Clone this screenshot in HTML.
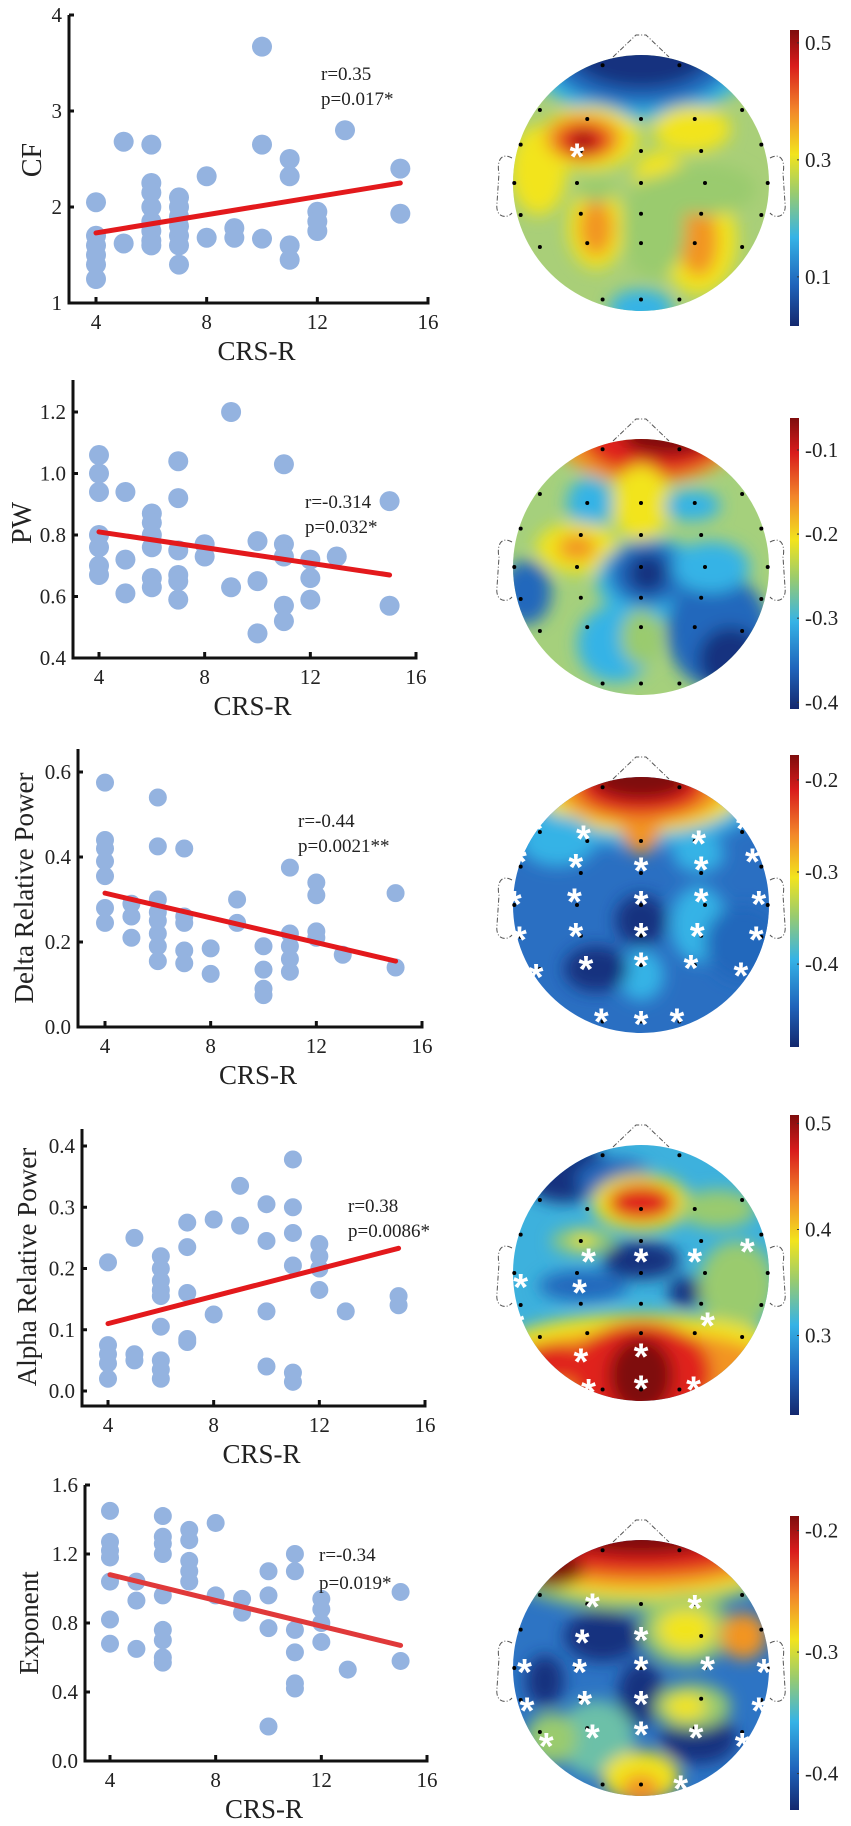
<!DOCTYPE html>
<html><head><meta charset="utf-8"><style>
html,body{margin:0;padding:0;background:#fff;}
svg{display:block;font-family:"Liberation Serif",serif;}
</style></head><body>
<svg id="fig" width="851" height="1826" viewBox="0 0 851 1826" xmlns="http://www.w3.org/2000/svg">
<defs>
<linearGradient id="jet" x1="0" y1="0" x2="0" y2="1">
<stop offset="0" stop-color="#7f0d0d"/><stop offset="0.12" stop-color="#d91c1c"/><stop offset="0.27" stop-color="#f2862a"/><stop offset="0.42" stop-color="#f2e41d"/><stop offset="0.55" stop-color="#9acb6e"/><stop offset="0.7" stop-color="#35b3e6"/><stop offset="0.86" stop-color="#2064bb"/><stop offset="1" stop-color="#14286e"/>
</linearGradient>
<filter id="blur" x="-50%" y="-50%" width="200%" height="200%"><feGaussianBlur stdDeviation="8"/></filter>
</defs>
</svg>
<script>
// ---------- scatter data ----------
const cfX=[4,4,4,4,4,4,5,5,6,6,6,6,6,6,6,6,7,7,7,7,7,7,7,8,8,9,9,10,10,10,11,11,11,11,12,12,12,13,15,15];
const cfY=[2.05,1.7,1.6,1.5,1.4,1.25,2.68,1.62,2.65,2.25,2.15,2.0,1.85,1.75,1.65,1.6,2.1,2.0,1.9,1.8,1.7,1.6,1.4,2.32,1.68,1.78,1.68,3.67,2.65,1.67,2.5,2.32,1.6,1.45,1.95,1.85,1.75,2.8,2.4,1.93];
const pwX=[4,4,4,4,4,4,4,5,5,5,6,6,6,6,6,6,7,7,7,7,7,7,8,8,9,9,10,10,10,11,11,11,11,11,12,12,12,13,15,15];
const pwY=[1.06,1.0,0.94,0.8,0.76,0.7,0.67,0.94,0.72,0.61,0.87,0.84,0.8,0.76,0.66,0.63,1.04,0.92,0.75,0.67,0.65,0.59,0.77,0.73,1.2,0.63,0.78,0.65,0.48,1.03,0.77,0.73,0.57,0.52,0.72,0.66,0.59,0.73,0.91,0.57];
const deltaX=[4,4,4,4,4,4,4,5,5,5,6,6,6,6,6,6,6,6,7,7,7,7,7,8,8,9,9,10,10,10,10,11,11,11,11,11,12,12,12,12,13,15,15];
const deltaY=[0.575,0.44,0.42,0.39,0.355,0.28,0.245,0.29,0.26,0.21,0.54,0.425,0.3,0.27,0.25,0.22,0.19,0.155,0.42,0.26,0.245,0.18,0.15,0.185,0.125,0.3,0.245,0.19,0.135,0.09,0.075,0.375,0.22,0.19,0.16,0.13,0.34,0.31,0.225,0.21,0.17,0.315,0.14];
const alphaX=[4,4,4,4,4,5,5,5,6,6,6,6,6,6,6,6,6,7,7,7,7,7,8,8,9,9,10,10,10,10,11,11,11,11,11,11,12,12,12,12,13,15,15];
const alphaY=[0.21,0.075,0.06,0.045,0.02,0.25,0.06,0.05,0.22,0.2,0.18,0.165,0.155,0.105,0.05,0.035,0.02,0.275,0.235,0.16,0.085,0.08,0.28,0.125,0.335,0.27,0.305,0.245,0.13,0.04,0.378,0.3,0.258,0.205,0.03,0.015,0.24,0.22,0.2,0.165,0.13,0.155,0.14];
const expX=[4,4,4,4,4,4,4,5,5,5,6,6,6,6,6,6,6,6,6,7,7,7,7,7,8,8,9,9,10,10,10,10,11,11,11,11,11,11,12,12,12,12,13,15,15];
const expY=[1.45,1.27,1.22,1.18,1.04,0.82,0.68,1.04,0.93,0.65,1.42,1.3,1.26,1.2,0.96,0.76,0.7,0.6,0.57,1.34,1.28,1.16,1.1,1.04,1.38,0.96,0.94,0.86,1.1,0.96,0.77,0.2,1.2,1.1,0.76,0.63,0.45,0.42,0.94,0.88,0.8,0.69,0.53,0.98,0.58];
const fitX=[4,15];
const cfFit=[1.73,2.25];
const pwFit=[0.81,0.67];
const deltaFit=[0.315,0.155];
const alphaFit=[0.11,0.233];
const expFit=[1.08,0.67];
const xTicks=[4,8,12,16];
const cfTicks=[1,2,3,4];
const pwTicks=[0.4,0.6,0.8,1.0,1.2];
const deltaTicks=[0.0,0.2,0.4,0.6];
const alphaTicks=[0.0,0.1,0.2,0.3,0.4];
const expTicks=[0.0,0.4,0.8,1.2,1.6];
const statR=["r=0.35","r=-0.314","r=-0.44","r=0.38","r=-0.34"];
const statP=["p=0.017*","p=0.032*","p=0.0021**","p=0.0086*","p=0.019*"];
const yTitles=["CF","PW","Delta Relative Power","Alpha Relative Power","Exponent"];
const cb1Ticks=[0.1,0.3,0.5], cb2Ticks=[-0.4,-0.3,-0.2,-0.1], cb3Ticks=[-0.4,-0.3,-0.2], cb4Ticks=[0.3,0.4,0.5], cb5Ticks=[-0.4,-0.3,-0.2];

const NS="http://www.w3.org/2000/svg";
const svg=document.getElementById('fig');
function el(tag,attrs,parent){const e=document.createElementNS(NS,tag);for(const k in attrs)e.setAttribute(k,attrs[k]);(parent||svg).appendChild(e);return e;}

const panels=[
 {key:'cf',xs:cfX,ys:cfY,fit:cfFit,ticks:cfTicks,dec:0,ax:69,x4:96,x16:428,yA:cfTicks[0],yApx:303,yB:4,yBpx:15,top:15,bot:303,r:10,sx:321,sr:80,sp:105,tx:32,ty:160,tfs:28,lineCol:'#e3191c'},
 {key:'pw',xs:pwX,ys:pwY,fit:pwFit,ticks:pwTicks,dec:1,ax:73,x4:99,x16:416,yA:0.4,yApx:658,yB:1.2,yBpx:412,top:380,bot:658,r:10,sx:305,sr:508,sp:533,tx:22,ty:523,tfs:28,lineCol:'#e3191c'},
 {key:'delta',xs:deltaX,ys:deltaY,fit:deltaFit,ticks:deltaTicks,dec:1,ax:78,x4:105,x16:422,yA:0,yApx:1027,yB:0.6,yBpx:772,top:749,bot:1027,r:9,sx:298,sr:827,sp:852,tx:24,ty:888,tfs:27,lineCol:'#e3191c'},
 {key:'alpha',xs:alphaX,ys:alphaY,fit:alphaFit,ticks:alphaTicks,dec:1,ax:82,x4:108,x16:425,yA:0,yApx:1391,yB:0.4,yBpx:1146,top:1129,bot:1406,r:9,sx:348,sr:1212,sp:1237,tx:27,ty:1267,tfs:27,lineCol:'#e3191c'},
 {key:'exp',xs:expX,ys:expY,fit:expFit,ticks:expTicks,dec:1,ax:85,x4:110,x16:427,yA:0,yApx:1761,yB:1.6,yBpx:1485,top:1485,bot:1761,r:9,sx:319,sr:1561,sp:1589,tx:29,ty:1623,tfs:27,lineCol:'#e0393a'}
];

panels.forEach((p,i)=>{
 const g=el('g',{});
 
 
 const X=v=>p.x4+(v-4)*(p.x16-p.x4)/12;
 const Y=v=>p.yApx+(v-p.yA)*(p.yBpx-p.yApx)/(p.yB-p.yA);
 p.xs.forEach((xv,j)=>{
  const c=el('circle',{cx:X(xv),cy:Y(p.ys[j]),r:p.r,fill:'#94b3e0'},g);
  
  
 });
 const ln=el('line',{x1:X(fitX[0]),y1:Y(p.fit[0]),x2:X(fitX[1]),y2:Y(p.fit[1]),stroke:p.lineCol,'stroke-width':5,'stroke-linecap':'round'},g);
 
 
 const ya=el('line',{x1:p.ax,y1:p.top,x2:p.ax,y2:p.bot+1.5,stroke:'#111','stroke-width':3},g);
 
 
 const xa=el('line',{x1:p.ax-1.5,y1:p.bot,x2:p.x16+1.5,y2:p.bot,stroke:'#111','stroke-width':3},g);
 
 
 p.ticks.forEach(t=>{
  const yy=Y(t);
  el('line',{x1:p.ax,y1:yy,x2:p.ax+5,y2:yy,stroke:'#111','stroke-width':3},g);
  const tl=el('text',{x:p.ax-7,y:yy+7,'font-size':21,'text-anchor':'end',fill:'#222'},g);
  tl.textContent=t.toFixed(p.dec);
  
  
 });
 xTicks.forEach(t=>{
  const xx=X(t);
  el('line',{x1:xx,y1:p.bot,x2:xx,y2:p.bot-6,stroke:'#111','stroke-width':3},g);
  const tl=el('text',{x:xx,y:p.bot+26,'font-size':21,'text-anchor':'middle',fill:'#222'},g);
  tl.textContent=t;
  
  
 });
 const xt=el('text',{x:(p.ax+p.x16)/2+8,y:p.bot+57,'font-size':27,'text-anchor':'middle',fill:'#222'},g);
 xt.textContent='CRS-R';
 
 
 const yt=el('text',{x:0,y:0,'font-size':p.tfs,'text-anchor':'middle',fill:'#222',transform:`translate(${p.tx+9},${p.ty}) rotate(-90)`},g);
 yt.textContent=yTitles[i];
 
 
 const r1=el('text',{x:p.sx,y:p.sr,'font-size':19,fill:'#222'},g);
 r1.textContent=statR[i];
 
 
 const p1=el('text',{x:p.sx,y:p.sp,'font-size':19,fill:'#222'},g);
 p1.textContent=statP[i];
 
 
});

// ---------- topomaps ----------
const C={DR:'#7f0d0d',R:'#e0201b',O:'#f29421',Y:'#f2e41d',G:'#9acb6e',T:'#6cc0a8',LB:'#35b3e6',B:'#2168bc',DB:'#17307f'};
const elec=[[-0.3,-0.92],[0.3,-0.92],[-0.79,-0.57],[-0.42,-0.5],[0,-0.5],[0.42,-0.5],[0.79,-0.57],[-0.94,-0.3],[-0.47,-0.25],[0,-0.25],[0.47,-0.25],[0.94,-0.3],[-0.99,0],[-0.5,0],[0,0],[0.5,0],[0.99,0],[-0.94,0.25],[-0.47,0.24],[0,0.24],[0.47,0.24],[0.94,0.25],[-0.79,0.5],[-0.42,0.47],[0,0.47],[0.42,0.47],[0.79,0.5],[-0.3,0.91],[0,0.91],[0.3,0.91]];
const maps=[
 {key:'cf',cy:183,base:'#a9cf78',cbTop:30,cbBot:326,vTop:0.522,vBot:0.016,ticks:cb1Ticks,dec:1,
  blobs:[[0,-0.95,0.85,0.45,'LB'],[0,-0.98,0.72,0.38,'B'],[0,-1.02,0.55,0.28,'DB'],[-0.8,-0.1,0.22,0.35,'Y'],[-0.4,-0.35,0.38,0.25,'Y'],[-0.45,-0.35,0.3,0.18,'O'],[-0.45,-0.33,0.2,0.13,'R'],[-0.45,-0.33,0.08,0.06,'DR'],[-0.35,0.35,0.22,0.32,'Y'],[-0.35,0.35,0.13,0.22,'O'],[0.45,0.45,0.3,0.42,'Y'],[0.45,0.45,0.15,0.28,'O'],[0.4,-0.42,0.3,0.18,'Y'],[0.15,-0.05,0.2,0.2,'Y'],[0.1,0.35,0.25,0.4,'G'],[-0.35,0.05,0.15,0.1,'G'],[0,0.98,0.25,0.15,'LB'],[0.5,0.05,0.4,0.2,'G']],stars:[[-0.5,-0.24]]},
 {key:'pw',cy:567,base:'#a5d07c',cbTop:418,cbBot:709,vTop:-0.062,vBot:-0.408,ticks:cb2Ticks,dec:1,
  blobs:[[0.05,-1.0,0.7,0.35,'O'],[0.1,-1.0,0.55,0.28,'R'],[0.2,-1.02,0.35,0.15,'DR'],[0,-0.5,0.22,0.3,'Y'],[-0.4,-0.5,0.18,0.2,'LB'],[0.4,-0.48,0.22,0.12,'LB'],[-0.5,-0.15,0.32,0.2,'Y'],[-0.5,-0.15,0.15,0.1,'O'],[0.1,0.1,0.45,0.32,'LB'],[0.05,0.05,0.3,0.25,'B'],[0.05,0.05,0.15,0.15,'DB'],[0.6,0.5,0.4,0.45,'B'],[0.7,0.72,0.25,0.25,'DB'],[-0.9,0.2,0.2,0.25,'B'],[-0.2,0.6,0.3,0.3,'LB'],[0,0.55,0.16,0.22,'G'],[0.55,0.0,0.3,0.2,'LB']],stars:[]},
 {key:'delta',cy:905,base:'#2a6fc2',cbTop:755,cbBot:1047,vTop:-0.173,vBot:-0.49,ticks:cb3Ticks,dec:1,
  blobs:[[0,-0.85,0.95,0.4,'LB'],[0,-0.88,0.8,0.32,'Y'],[0,-0.9,0.65,0.28,'O'],[0,-0.6,0.15,0.2,'O'],[0,-0.92,0.5,0.22,'R'],[0,-0.98,0.38,0.16,'DR'],[0.45,-0.4,0.2,0.15,'LB'],[0.45,0.15,0.22,0.3,'LB'],[0,0.55,0.18,0.2,'LB'],[-0.65,-0.5,0.3,0.2,'LB'],[0,0.12,0.2,0.2,'DB'],[-0.35,0.5,0.25,0.18,'DB'],[0.8,0.3,0.3,0.3,'B']],
  stars:[[-0.45,-0.55],[0.45,-0.51],[-0.82,-0.63],[0.8,-0.63],[-0.95,-0.37],[-0.51,-0.33],[0,-0.3],[0.47,-0.31],[0.87,-0.37],[-0.99,-0.04],[-0.52,-0.06],[0,-0.04],[0.47,-0.06],[0.92,-0.04],[-0.95,0.24],[-0.51,0.21],[0,0.21],[0.44,0.21],[0.9,0.24],[-0.82,0.53],[-0.43,0.47],[0,0.44],[0.39,0.46],[0.78,0.52],[-0.31,0.88],[0,0.9],[0.28,0.88]]},
 {key:'alpha',cy:1273,base:'#3db1dd',cbTop:1115,cbBot:1415,vTop:0.508,vBot:0.225,ticks:cb4Ticks,dec:1,
  blobs:[[-0.6,-0.8,0.35,0.25,'DB'],[-0.2,-0.72,0.3,0.18,'B'],[0,-0.55,0.38,0.22,'Y'],[0,-0.55,0.26,0.14,'R'],[0.6,-0.5,0.3,0.15,'G'],[-0.45,-0.25,0.25,0.1,'G'],[-0.45,-0.25,0.08,0.06,'Y'],[0,-0.1,0.3,0.15,'DB'],[-0.45,0.1,0.35,0.12,'B'],[0.35,0.15,0.14,0.12,'DB'],[0.75,0.1,0.3,0.35,'G'],[0,0.6,1.1,0.28,'Y'],[0,0.8,1.1,0.35,'O'],[0,0.78,0.55,0.4,'R'],[0,0.8,0.25,0.3,'DR'],[-0.7,0.7,0.3,0.15,'R']],
  stars:[[-0.41,-0.12],[0,-0.12],[0.42,-0.12],[0.83,-0.2],[-0.94,0.08],[-0.48,0.12],[0.52,0.38],[-0.97,0.38],[-0.47,0.66],[0,0.62],[-0.41,0.9],[0,0.87],[0.41,0.88]]},
 {key:'exp',cy:1668,base:'#2d74c4',cbTop:1516,cbBot:1810,vTop:-0.188,vBot:-0.43,ticks:cb5Ticks,dec:1,
  blobs:[[0,-0.8,1.1,0.35,'G'],[0,-0.85,1.05,0.3,'Y'],[0,-0.9,1.0,0.28,'O'],[0,-0.95,0.9,0.22,'R'],[0,-1.02,0.6,0.14,'DR'],[-0.7,-0.78,0.25,0.15,'DR'],[-0.3,-0.25,0.3,0.2,'DB'],[0,0.2,0.18,0.25,'DB'],[0.45,0.55,0.3,0.2,'DB'],[-0.75,0.1,0.15,0.2,'DB'],[0.35,-0.3,0.35,0.28,'G'],[0.35,-0.3,0.22,0.16,'Y'],[0.8,-0.25,0.18,0.18,'O'],[0.4,0.3,0.3,0.18,'G'],[0.35,0.3,0.16,0.1,'Y'],[-0.35,0.55,0.3,0.3,'T'],[0,0.85,0.3,0.2,'Y'],[0,0.95,0.15,0.12,'O'],[-0.7,0.55,0.2,0.2,'G']],
  stars:[[-0.38,-0.51],[0.42,-0.5],[-0.46,-0.23],[0,-0.25],[-0.91,0],[-0.48,0],[0,-0.02],[0.52,-0.02],[0.96,0],[-0.89,0.3],[-0.44,0.25],[0,0.25],[0.92,0.3],[-0.38,0.51],[0,0.49],[0.43,0.51],[-0.74,0.58],[0.79,0.58],[0.31,0.91]]}
];
const CX=641,R=128;
maps.forEach((m,i)=>{
 const g=el('g',{});
 
 
 const cp=el('clipPath',{id:'clip'+i},g);
 el('circle',{cx:CX,cy:m.cy,r:R},cp);
 const inner=el('g',{'clip-path':`url(#clip${i})`},g);
 el('rect',{x:CX-R-2,y:m.cy-R-2,width:2*R+4,height:2*R+4,fill:m.base},inner);
 const bl=el('g',{filter:'url(#blur)'},inner);
 m.blobs.forEach(b=>{el('ellipse',{cx:CX+b[0]*R,cy:m.cy+b[1]*R,rx:b[2]*R,ry:b[3]*R,fill:C[b[4]]},bl);});
 el('path',{d:`M${CX-28} ${m.cy-R+2} L${CX-5} ${m.cy-R-20} L${CX+5} ${m.cy-R-20} L${CX+28} ${m.cy-R+2}`,fill:'none',stroke:'#555','stroke-width':1,'stroke-dasharray':'5 2 1 2'},g);
 el('path',{d:`M${CX-R-1} ${m.cy-25} C${CX-R-14} ${m.cy-32} ${CX-R-16} ${m.cy-18} ${CX-R-14} ${m.cy-10} L${CX-R-16} ${m.cy+20} C${CX-R-18} ${m.cy+35} ${CX-R-6} ${m.cy+36} ${CX-R-1} ${m.cy+30}`,fill:'none',stroke:'#555','stroke-width':1,'stroke-dasharray':'5 2 1 2'},g);
 el('path',{d:`M${CX+R+1} ${m.cy-25} C${CX+R+14} ${m.cy-32} ${CX+R+16} ${m.cy-18} ${CX+R+14} ${m.cy-10} L${CX+R+16} ${m.cy+20} C${CX+R+18} ${m.cy+35} ${CX+R+6} ${m.cy+36} ${CX+R+1} ${m.cy+30}`,fill:'none',stroke:'#555','stroke-width':1,'stroke-dasharray':'5 2 1 2'},g);
 elec.forEach(e=>{
  const d=el('circle',{cx:CX+e[0]*R,cy:m.cy+e[1]*R,r:2,fill:'#000'},g);
  
  
 });
 m.stars.forEach(s=>{
  const t=el('text',{x:CX+s[0]*R,y:m.cy+s[1]*R+17,'font-size':38,'font-family':'"Liberation Sans",sans-serif','font-weight':'bold','text-anchor':'middle',fill:'#fff'},g);
  t.textContent='*';
  
  
 });
 const cb=el('rect',{x:790,y:m.cbTop,width:9,height:m.cbBot-m.cbTop,fill:'url(#jet)'},g);
 
 
 const V=v=>m.cbTop+(m.vTop-v)*(m.cbBot-m.cbTop)/(m.vTop-m.vBot);
 m.ticks.forEach(t=>{
  const yy=V(t);
  el('line',{x1:797,y1:yy,x2:799,y2:yy,stroke:'#333','stroke-width':1},g);
  const tl=el('text',{x:805,y:yy+7,'font-size':21,fill:'#222'},g);
  tl.textContent=t.toFixed(m.dec);
  
  
 });
});
</script>
</body></html>
